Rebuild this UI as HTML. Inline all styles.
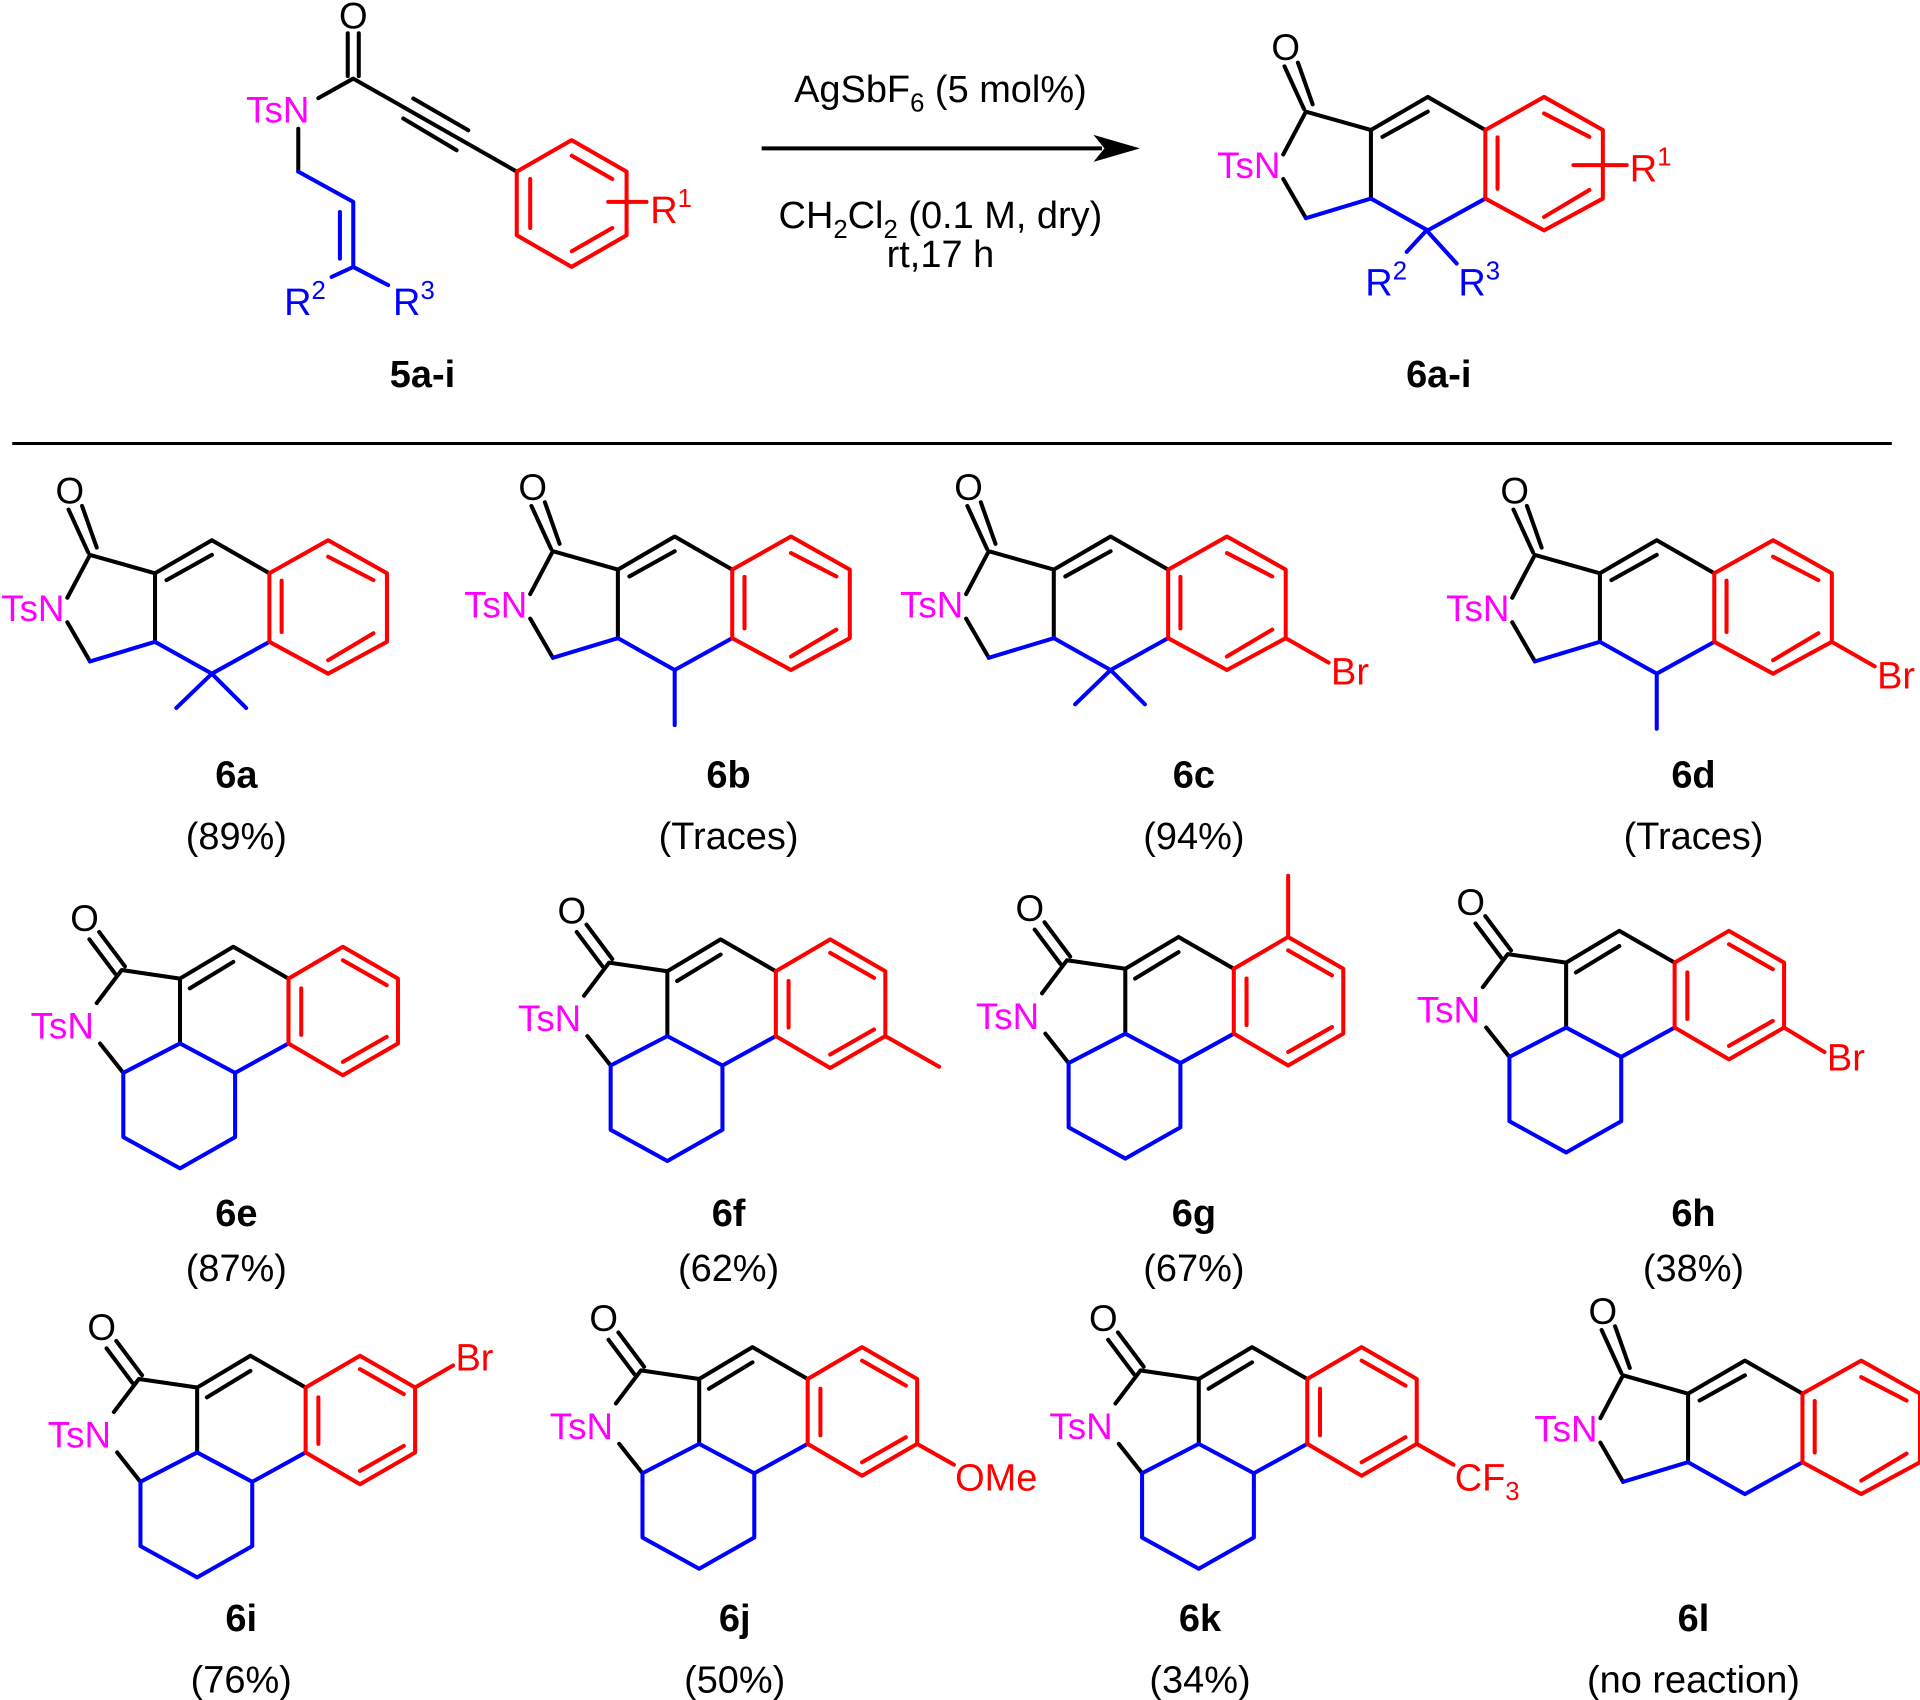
<!DOCTYPE html>
<html><head><meta charset="utf-8"><style>
html,body{margin:0;padding:0;background:#fff;}
svg{display:block;}
text{font-family:"Liberation Sans",Arial,sans-serif;}
</style></head><body>
<svg width="1920" height="1700" viewBox="0 0 1568 1388" xmlns="http://www.w3.org/2000/svg">
<style>
.k{stroke:#000;stroke-width:3.3;fill:none;stroke-linecap:round;stroke-linejoin:round}
.r{stroke:#ff0000;stroke-width:3.3;fill:none;stroke-linecap:round;stroke-linejoin:round}
.b{stroke:#0000ff;stroke-width:3.3;fill:none;stroke-linecap:round;stroke-linejoin:round}
.t{font-size:31px;fill:#000}
.o{font-size:30px;fill:#000}
.m{font-size:30px;fill:#ff00ff}
.tr{font-size:31px;fill:#ff0000}
.tb{font-size:31px;fill:#0000ff}
.lb{font-size:31px;font-weight:bold;fill:#000;text-anchor:middle}
.yl{font-size:31px;fill:#000;text-anchor:middle}
</style>

<!-- ===== Starting material 5a-i ===== -->
<text x="288.5" y="23" class="o" text-anchor="middle">O</text>
<path class="k" d="M284 27 L284 62 M293 27 L293 62"/>
<path class="k" d="M260 80 L288.5 64 L422 140"/>
<path class="k" d="M337.5 80.3 L382.4 106.2 M329.3 96.6 L372.9 122.5"/>
<text x="201" y="100" class="m">TsN</text>
<path class="k" d="M243.6 105 L243.6 140"/>
<path class="b" d="M243.6 140 L288.5 164.7 L288.5 217.8 M277.6 173 L277.6 211 M288.5 217.8 L270.8 226 M288.5 217.8 L317 232.7"/>
<text x="232" y="257" class="tb">R<tspan font-size="21" dy="-13">2</tspan></text>
<text x="321" y="257" class="tb">R<tspan font-size="21" dy="-13">3</tspan></text>
<path class="r" d="M422 140 L466.8 114.3 L511.7 140 L511.7 192 L466.8 217.8 L422 192 Z M433 146 L433 186 M467 127 L500 146 M467 205 L500 186 M496.7 164.7 L528 164.7"/>
<text x="531" y="182" class="tr">R<tspan font-size="21" dy="-13">1</tspan></text>
<text x="345" y="316" class="lb">5a-i</text>

<!-- arrow -->
<line x1="622" y1="121" x2="900" y2="121" stroke="#000" stroke-width="3.3"/>
<polygon points="931,121 893,110 902,121 893,132" fill="#000"/>
<text x="768" y="83" class="t" text-anchor="middle">AgSbF<tspan font-size="21" dy="8">6</tspan><tspan dy="-8"> (5 mol%)</tspan></text>
<text x="768" y="186" class="t" text-anchor="middle">CH<tspan font-size="21" dy="8">2</tspan><tspan dy="-8">Cl</tspan><tspan font-size="21" dy="8">2</tspan><tspan dy="-8"> (0.1 M, dry)</tspan></text>
<text x="768" y="218" class="t" text-anchor="middle">rt,17 h</text>

<!-- product 6a-i general -->
<g transform="translate(993,-362)">
<text x="57" y="411" class="o" text-anchor="middle">O</text>
<path class="k" d="M56 416 L72 451 M67 413 L79 447"/>
<path class="k" d="M55 488 L73.5 453 L126.6 468 L173 441 L220 468 M136 473.6 L173 453 M126.6 468 L126.6 524 M55 508 L73.5 540"/>
<text x="1" y="507" class="m">TsN</text>
<path class="b" d="M73.5 540 L126.6 524 L173 550 L220 524"/>
<path class="r" d="M220 468 L268 441 L316 468 L316 524 L268 550 L220 524 Z M230 474 L230 516 M268 454.5 L305 473.6 M268 539 L305 517"/>
</g>
<path class="b" d="M1165 188 L1148.8 205.5 M1165 188 L1189.6 215"/>
<path class="r" d="M1285 134.7 L1328.5 134.7"/>
<text x="1331" y="148" class="tr">R<tspan font-size="21" dy="-13">1</tspan></text>
<text x="1115" y="241" class="tb">R<tspan font-size="21" dy="-13">2</tspan></text>
<text x="1191" y="241" class="tb">R<tspan font-size="21" dy="-13">3</tspan></text>
<text x="1175" y="316" class="lb">6a-i</text>

<line x1="10" y1="362" x2="1545" y2="362" stroke="#000" stroke-width="2.5"/>

<!-- ===== Row 1 ===== -->
<g transform="translate(0,0)">
<text x="57" y="411" class="o" text-anchor="middle">O</text>
<path class="k" d="M56 416 L72 451 M67 413 L79 447"/>
<path class="k" d="M55 488 L73.5 453 L126.6 468 L173 441 L220 468 M136 473.6 L173 453 M126.6 468 L126.6 524 M55 508 L73.5 540"/>
<text x="1" y="507" class="m">TsN</text>
<path class="b" d="M73.5 540 L126.6 524 L173 550 L220 524 M173 550 L144 578 M173 550 L201 578"/>
<path class="r" d="M220 468 L268 441 L316 468 L316 524 L268 550 L220 524 Z M230 474 L230 516 M268 454.5 L305 473.6 M268 539 L305 517"/>
</g>
<g transform="translate(378,-3)">
<text x="57" y="411" class="o" text-anchor="middle">O</text>
<path class="k" d="M56 416 L72 451 M67 413 L79 447"/>
<path class="k" d="M55 488 L73.5 453 L126.6 468 L173 441 L220 468 M136 473.6 L173 453 M126.6 468 L126.6 524 M55 508 L73.5 540"/>
<text x="1" y="507" class="m">TsN</text>
<path class="b" d="M73.5 540 L126.6 524 L173 550 L220 524 M173 550 L173 595"/>
<path class="r" d="M220 468 L268 441 L316 468 L316 524 L268 550 L220 524 Z M230 474 L230 516 M268 454.5 L305 473.6 M268 539 L305 517"/>
</g>
<g transform="translate(734,-3)">
<text x="57" y="411" class="o" text-anchor="middle">O</text>
<path class="k" d="M56 416 L72 451 M67 413 L79 447"/>
<path class="k" d="M55 488 L73.5 453 L126.6 468 L173 441 L220 468 M136 473.6 L173 453 M126.6 468 L126.6 524 M55 508 L73.5 540"/>
<text x="1" y="507" class="m">TsN</text>
<path class="b" d="M73.5 540 L126.6 524 L173 550 L220 524 M173 550 L144 578 M173 550 L201 578"/>
<path class="r" d="M220 468 L268 441 L316 468 L316 524 L268 550 L220 524 Z M230 474 L230 516 M268 454.5 L305 473.6 M268 539 L305 517 M316 524 L351 544"/>
<text x="353" y="562" class="tr">Br</text>
</g>
<g transform="translate(1180,0)">
<text x="57" y="411" class="o" text-anchor="middle">O</text>
<path class="k" d="M56 416 L72 451 M67 413 L79 447"/>
<path class="k" d="M55 488 L73.5 453 L126.6 468 L173 441 L220 468 M136 473.6 L173 453 M126.6 468 L126.6 524 M55 508 L73.5 540"/>
<text x="1" y="507" class="m">TsN</text>
<path class="b" d="M73.5 540 L126.6 524 L173 550 L220 524 M173 550 L173 595"/>
<path class="r" d="M220 468 L268 441 L316 468 L316 524 L268 550 L220 524 Z M230 474 L230 516 M268 454.5 L305 473.6 M268 539 L305 517 M316 524 L351 544"/>
<text x="353" y="562" class="tr">Br</text>
</g>
<text x="193" y="643" class="lb">6a</text><text x="193" y="693" class="yl">(89%)</text>
<text x="595" y="643" class="lb">6b</text><text x="595" y="693" class="yl">(Traces)</text>
<text x="975" y="643" class="lb">6c</text><text x="975" y="693" class="yl">(94%)</text>
<text x="1383" y="643" class="lb">6d</text><text x="1383" y="693" class="yl">(Traces)</text>

<!-- ===== Row 2 ===== -->
<g transform="translate(0,0)">
<text x="69" y="760" class="o" text-anchor="middle">O</text>
<path class="k" d="M73 767 L94 795 M81 761 L102 789"/>
<path class="k" d="M79 819 L99.4 792 L147 799 L190.5 773 L235.6 799 M155 807 L190.5 785.4 M147 799 L147 852 M81.7 852 L100.7 876"/>
<text x="25" y="848" class="m">TsN</text>
<path class="b" d="M100.7 876 L147 852 L192 876 L235.6 852 M192 876 L192 928.5 L147 954 L100.7 928.5 L100.7 876"/>
<path class="r" d="M235.6 799 L280 773 L325 799 L325 852 L280 878 L235.6 852 Z M246 807 L246 845 M280 784 L315.8 804.4 M280 867 L315.8 846.6"/>
</g>
<g transform="translate(398,-6)">
<text x="69" y="760" class="o" text-anchor="middle">O</text>
<path class="k" d="M73 767 L94 795 M81 761 L102 789"/>
<path class="k" d="M79 819 L99.4 792 L147 799 L190.5 773 L235.6 799 M155 807 L190.5 785.4 M147 799 L147 852 M81.7 852 L100.7 876"/>
<text x="25" y="848" class="m">TsN</text>
<path class="b" d="M100.7 876 L147 852 L192 876 L235.6 852 M192 876 L192 928.5 L147 954 L100.7 928.5 L100.7 876"/>
<path class="r" d="M235.6 799 L280 773 L325 799 L325 852 L280 878 L235.6 852 Z M246 807 L246 845 M280 784 L315.8 804.4 M280 867 L315.8 846.6 M325 852 L369 877"/>
</g>
<g transform="translate(772,-8)">
<text x="69" y="760" class="o" text-anchor="middle">O</text>
<path class="k" d="M73 767 L94 795 M81 761 L102 789"/>
<path class="k" d="M79 819 L99.4 792 L147 799 L190.5 773 L235.6 799 M155 807 L190.5 785.4 M147 799 L147 852 M81.7 852 L100.7 876"/>
<text x="25" y="848" class="m">TsN</text>
<path class="b" d="M100.7 876 L147 852 L192 876 L235.6 852 M192 876 L192 928.5 L147 954 L100.7 928.5 L100.7 876"/>
<path class="r" d="M235.6 799 L280 773 L325 799 L325 852 L280 878 L235.6 852 Z M246 807 L246 845 M280 784 L315.8 804.4 M280 867 L315.8 846.6 M280 773 L280 723"/>
</g>
<g transform="translate(1132,-13)">
<text x="69" y="760" class="o" text-anchor="middle">O</text>
<path class="k" d="M73 767 L94 795 M81 761 L102 789"/>
<path class="k" d="M79 819 L99.4 792 L147 799 L190.5 773 L235.6 799 M155 807 L190.5 785.4 M147 799 L147 852 M81.7 852 L100.7 876"/>
<text x="25" y="848" class="m">TsN</text>
<path class="b" d="M100.7 876 L147 852 L192 876 L235.6 852 M192 876 L192 928.5 L147 954 L100.7 928.5 L100.7 876"/>
<path class="r" d="M235.6 799 L280 773 L325 799 L325 852 L280 878 L235.6 852 Z M246 807 L246 845 M280 784 L315.8 804.4 M280 867 L315.8 846.6 M325 852 L358 872"/>
<text x="360" y="887" class="tr">Br</text>
</g>
<text x="193" y="1001" class="lb">6e</text><text x="193" y="1046" class="yl">(87%)</text>
<text x="595" y="1001" class="lb">6f</text><text x="595" y="1046" class="yl">(62%)</text>
<text x="975" y="1001" class="lb">6g</text><text x="975" y="1046" class="yl">(67%)</text>
<text x="1383" y="1001" class="lb">6h</text><text x="1383" y="1046" class="yl">(38%)</text>

<!-- ===== Row 3 ===== -->
<g transform="translate(14,334)">
<text x="69" y="760" class="o" text-anchor="middle">O</text>
<path class="k" d="M73 767 L94 795 M81 761 L102 789"/>
<path class="k" d="M79 819 L99.4 792 L147 799 L190.5 773 L235.6 799 M155 807 L190.5 785.4 M147 799 L147 852 M81.7 852 L100.7 876"/>
<text x="25" y="848" class="m">TsN</text>
<path class="b" d="M100.7 876 L147 852 L192 876 L235.6 852 M192 876 L192 928.5 L147 954 L100.7 928.5 L100.7 876"/>
<path class="r" d="M235.6 799 L280 773 L325 799 L325 852 L280 878 L235.6 852 Z M246 807 L246 845 M280 784 L315.8 804.4 M280 867 L315.8 846.6 M325 799 L356 781"/>
</g>
<text x="372" y="1119" class="tr">Br</text>
<g transform="translate(424,327)">
<text x="69" y="760" class="o" text-anchor="middle">O</text>
<path class="k" d="M73 767 L94 795 M81 761 L102 789"/>
<path class="k" d="M79 819 L99.4 792 L147 799 L190.5 773 L235.6 799 M155 807 L190.5 785.4 M147 799 L147 852 M81.7 852 L100.7 876"/>
<text x="25" y="848" class="m">TsN</text>
<path class="b" d="M100.7 876 L147 852 L192 876 L235.6 852 M192 876 L192 928.5 L147 954 L100.7 928.5 L100.7 876"/>
<path class="r" d="M235.6 799 L280 773 L325 799 L325 852 L280 878 L235.6 852 Z M246 807 L246 845 M280 784 L315.8 804.4 M280 867 L315.8 846.6 M325 852 L355 869"/>
</g>
<text x="780" y="1217" class="tr">OMe</text>
<g transform="translate(832,327)">
<text x="69" y="760" class="o" text-anchor="middle">O</text>
<path class="k" d="M73 767 L94 795 M81 761 L102 789"/>
<path class="k" d="M79 819 L99.4 792 L147 799 L190.5 773 L235.6 799 M155 807 L190.5 785.4 M147 799 L147 852 M81.7 852 L100.7 876"/>
<text x="25" y="848" class="m">TsN</text>
<path class="b" d="M100.7 876 L147 852 L192 876 L235.6 852 M192 876 L192 928.5 L147 954 L100.7 928.5 L100.7 876"/>
<path class="r" d="M235.6 799 L280 773 L325 799 L325 852 L280 878 L235.6 852 Z M246 807 L246 845 M280 784 L315.8 804.4 M280 867 L315.8 846.6 M325 852 L355 869"/>
</g>
<text x="1188" y="1217" class="tr">CF<tspan font-size="21" dy="8">3</tspan></text>
<g transform="translate(1252,670)">
<text x="57" y="411" class="o" text-anchor="middle">O</text>
<path class="k" d="M56 416 L72 451 M67 413 L79 447"/>
<path class="k" d="M55 488 L73.5 453 L126.6 468 L173 441 L220 468 M136 473.6 L173 453 M126.6 468 L126.6 524 M55 508 L73.5 540"/>
<text x="1" y="507" class="m">TsN</text>
<path class="b" d="M73.5 540 L126.6 524 L173 550 L220 524"/>
<path class="r" d="M220 468 L268 441 L316 468 L316 524 L268 550 L220 524 Z M230 474 L230 516 M268 454.5 L305 473.6 M268 539 L305 517"/>
</g>
<text x="197" y="1332" class="lb">6i</text><text x="197" y="1382" class="yl">(76%)</text>
<text x="600" y="1332" class="lb">6j</text><text x="600" y="1382" class="yl">(50%)</text>
<text x="980" y="1332" class="lb">6k</text><text x="980" y="1382" class="yl">(34%)</text>
<text x="1383" y="1332" class="lb">6l</text><text x="1383" y="1382" class="yl">(no reaction)</text>
</svg>
</body></html>
